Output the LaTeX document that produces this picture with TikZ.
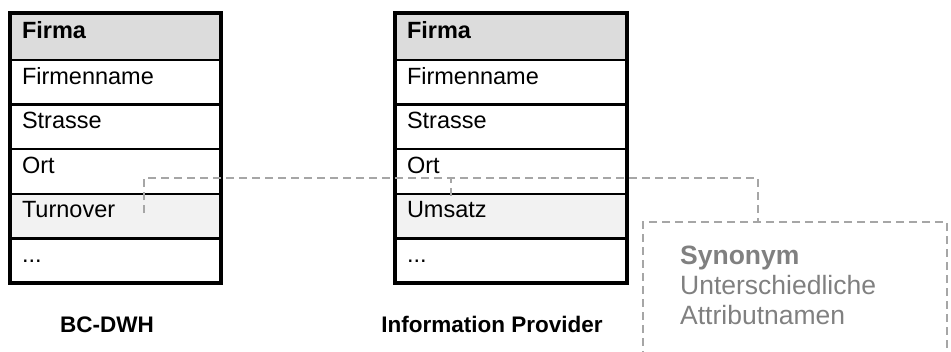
\documentclass[tikz,border=0pt]{standalone}
\usepackage{fontspec}
\setmainfont{Liberation Sans}
\definecolor{hdrgray}{HTML}{DCDCDC}
\definecolor{hlgray}{HTML}{F2F2F2}
\definecolor{dashgray}{HTML}{A6A6A6}
\definecolor{notegray}{HTML}{808080}
\tikzset{
  rowcell/.style={draw=black, line width=2.5pt, anchor=north, outer sep=0pt, inner xsep=12pt, inner ysep=0pt,
    text height=24pt, text depth=20.6pt, align=left, font=\fontsize{23.5}{27}\selectfont},
  hdrcell/.style={rowcell, fill=hdrgray, text height=25pt, text depth=22pt, font=\fontsize{23.5}{27}\selectfont\bfseries},
  hlcell/.style={rowcell, fill=hlgray},
  outerframe/.style={draw=black, line width=3.5pt},
  caption/.style={anchor=base, font=\fontsize{22.5}{26}\selectfont\bfseries},
  dashline/.style={draw=dashgray, line width=2pt, dash pattern=on 8pt off 5pt},
  notetext/.style={anchor=base west, text=notegray, inner sep=0pt, font=\fontsize{26.5}{30}\selectfont}
}
\begin{document}
\begin{tikzpicture}[x=1pt,y=-1pt]
\useasboundingbox (0,0) rectangle (951,351);
\clip (0,0) rectangle (951,351);
% left table
\node[hdrcell, text width=187pt] (L0) at (115.5,13) {Firma};
\node[rowcell, text width=187pt] (L1) at (L0.south) {Firmenname};
\node[rowcell, text width=187pt] (L2) at (L1.south) {Strasse};
\node[rowcell, text width=187pt] (L3) at (L2.south) {Ort};
\node[hlcell, text width=187pt] (L4) at (L3.south) {Turnover};
\node[rowcell, text width=187pt] (L5) at (L4.south) {...};
\draw[outerframe] (L0.north west) rectangle (L5.south east);
% right table
\node[hdrcell, text width=208pt] (R0) at (511,13) {Firma};
\node[rowcell, text width=208pt] (R1) at (R0.south) {Firmenname};
\node[rowcell, text width=208pt] (R2) at (R1.south) {Strasse};
\node[rowcell, text width=208pt] (R3) at (R2.south) {Ort};
\node[hlcell, text width=208pt] (R4) at (R3.south) {Umsatz};
\node[rowcell, text width=208pt] (R5) at (R4.south) {...};
\draw[outerframe] (R0.north west) rectangle (R5.south east);
% captions
\node[caption] (capL) at (107,332) {BC-DWH};
\node[caption] (capR) at (492,332) {Information Provider};
% note box
\node[dashline, draw, anchor=north west, minimum width=304pt, minimum height=160pt, inner sep=0pt, outer sep=0pt] (box) at (643,222) {};
\node[notetext] (n1) at (680,264) {\bfseries Synonym};
\node[notetext] (n2) at (680,294) {Unterschiedliche};
\node[notetext] (n3) at (680,324) {Attributnamen};
% connectors
\coordinate (tA) at (144,213);
\coordinate (j1) at (144,178);
\coordinate (j2) at (758,178);
\coordinate (bx) at (758,222);
\coordinate (uA) at (451,196);
\coordinate (uJ) at (451,178);
\draw[dashline] (tA) -- (j1) -- (j2) -- (bx);
\draw[dashline] (uA) -- (uJ);
\end{tikzpicture}
\end{document}
